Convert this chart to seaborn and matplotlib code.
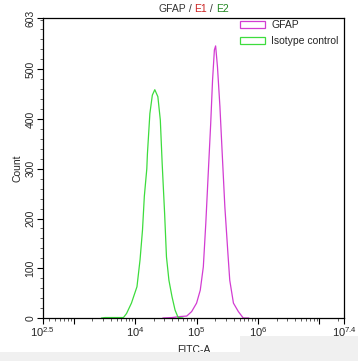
import numpy as np
import pandas as pd
import matplotlib
matplotlib.use("Agg")
import matplotlib.pyplot as plt
import seaborn as sns
from matplotlib.patches import Rectangle
from matplotlib.ticker import FixedLocator, NullFormatter

# curves: log10(FITC-A) and count
gfap_log = [4.45, 4.60, 4.73, 4.84, 4.92, 5.00, 5.06, 5.11, 5.15, 5.19, 5.23, 5.26, 5.29, 5.31,
            5.34, 5.38, 5.42, 5.46, 5.51, 5.54, 5.60, 5.68, 5.76, 5.85]
gfap_count = [0, 1, 3, 4, 13, 30, 56, 103, 190, 291, 391, 478, 539, 547,
              505, 425, 324, 224, 130, 76, 30, 13, 0, 0]

iso_log = [3.45, 3.51, 3.67, 3.81, 3.86, 3.94, 4.03, 4.08, 4.12, 4.15, 4.19, 4.20, 4.24, 4.28, 4.32,
           4.37, 4.41, 4.44, 4.48, 4.51, 4.55, 4.60, 4.65, 4.70, 4.78]
iso_count = [0, 1, 1, 1, 9, 30, 63, 117, 177, 245, 300, 330, 411, 448, 459,
             445, 398, 311, 210, 123, 76, 43, 16, 1, 0]

magenta = "#d23cd2"
green = "#3ddc3d"

df = pd.concat([
    pd.DataFrame({"x": 10 ** np.array(gfap_log), "count": gfap_count, "sample": "GFAP"}),
    pd.DataFrame({"x": 10 ** np.array(iso_log), "count": iso_count, "sample": "Isotype control"}),
])

sns.set_style("ticks")
plt.rcParams["font.family"] = ["Liberation Sans", "DejaVu Sans"]
plt.rcParams["mathtext.fontset"] = "custom"
plt.rcParams["mathtext.rm"] = "Liberation Sans"
plt.rcParams["mathtext.it"] = "Liberation Sans"

fig = plt.figure(figsize=(3.58, 3.61), dpi=100)
ax = fig.add_axes([0.120, 0.119, 0.841, 0.831])

sns.lineplot(data=df, x="x", y="count", hue="sample", palette=[magenta, green],
             sort=False, linewidth=0.9, legend=False, ax=ax)

ax.set_xscale("log")
ax.set_xlim(10 ** 2.5, 10 ** 7.4)
ax.set_ylim(0, 603)

xt = [10 ** 2.5, 1e3, 1e4, 1e5, 1e6, 1e7, 10 ** 7.4]
ax.set_xticks(xt)
ax.set_xticklabels([r"$10^{2.5}$", "", r"$10^4$", r"$10^5$", r"$10^6$", "", r"$10^{7.4}$"], fontsize=8)
minors = [m * 10 ** d for d in range(2, 8) for m in range(2, 10) if 10 ** 2.5 < m * 10 ** d < 10 ** 7.4]
ax.xaxis.set_minor_locator(FixedLocator(minors))
ax.xaxis.set_minor_formatter(NullFormatter())

ax.set_yticks([0, 100, 200, 300, 400, 500, 603])
ax.set_yticklabels(["0", "100", "200", "300", "400", "500", "603"], rotation=90, va="center", fontsize=7.5)
ax.yaxis.set_minor_locator(FixedLocator(np.arange(20, 603, 20)))

ax.tick_params(axis="both", which="major", length=4, width=0.8, color="black", pad=1.5)
ax.tick_params(axis="both", which="minor", length=2, width=0.6, color="#444444")
for s in ax.spines.values():
    s.set_visible(True)
    s.set_linewidth(0.9)
    s.set_color("black")

ax.set_xlabel("FITC-A", fontsize=7.5, labelpad=4)
ax.set_ylabel("Count", fontsize=7.5, labelpad=2)

# title with coloured parts
parts = [("GFAP", "#333333"), (" / ", "#333333"), ("E1", "#cc2222"), (" / ", "#333333"), ("E2", "#228822")]
r = fig.canvas.get_renderer()
widths = []
for txt, c in parts:
    t = fig.text(0, 0, txt, fontsize=7.5)
    widths.append(t.get_window_extent(r).width / fig.bbox.width)
    t.remove()
start = 0.5 * (0.120 + 0.961) - sum(widths) / 2
for (txt, c), w in zip(parts, widths):
    fig.text(start, 0.968, txt, color=c, fontsize=7.5, va="baseline")
    start += w

# legend with open rectangles
handles = [Rectangle((0, 0), 1, 1, facecolor="white", edgecolor=magenta, linewidth=0.9),
           Rectangle((0, 0), 1, 1, facecolor="white", edgecolor=green, linewidth=0.9)]
ax.legend(handles, ["GFAP", "Isotype control"], loc="upper right", frameon=False,
          fontsize=7.5, handlelength=2.4, handleheight=0.7, handletextpad=0.6,
          labelspacing=0.55, borderaxespad=0.1, bbox_to_anchor=(1.0, 1.01))

# grey strip at the bottom of the screenshot
fig.patches.append(Rectangle((0, 0), 1, 9 / 361, transform=fig.transFigure,
                             facecolor="#f0f0f0", edgecolor="none", zorder=10))
fig.patches.append(Rectangle((240 / 358, 0), 1, 25 / 361, transform=fig.transFigure,
                             facecolor="#f0f0f0", edgecolor="none", zorder=10))

fig.savefig("out.png", dpi=100)
